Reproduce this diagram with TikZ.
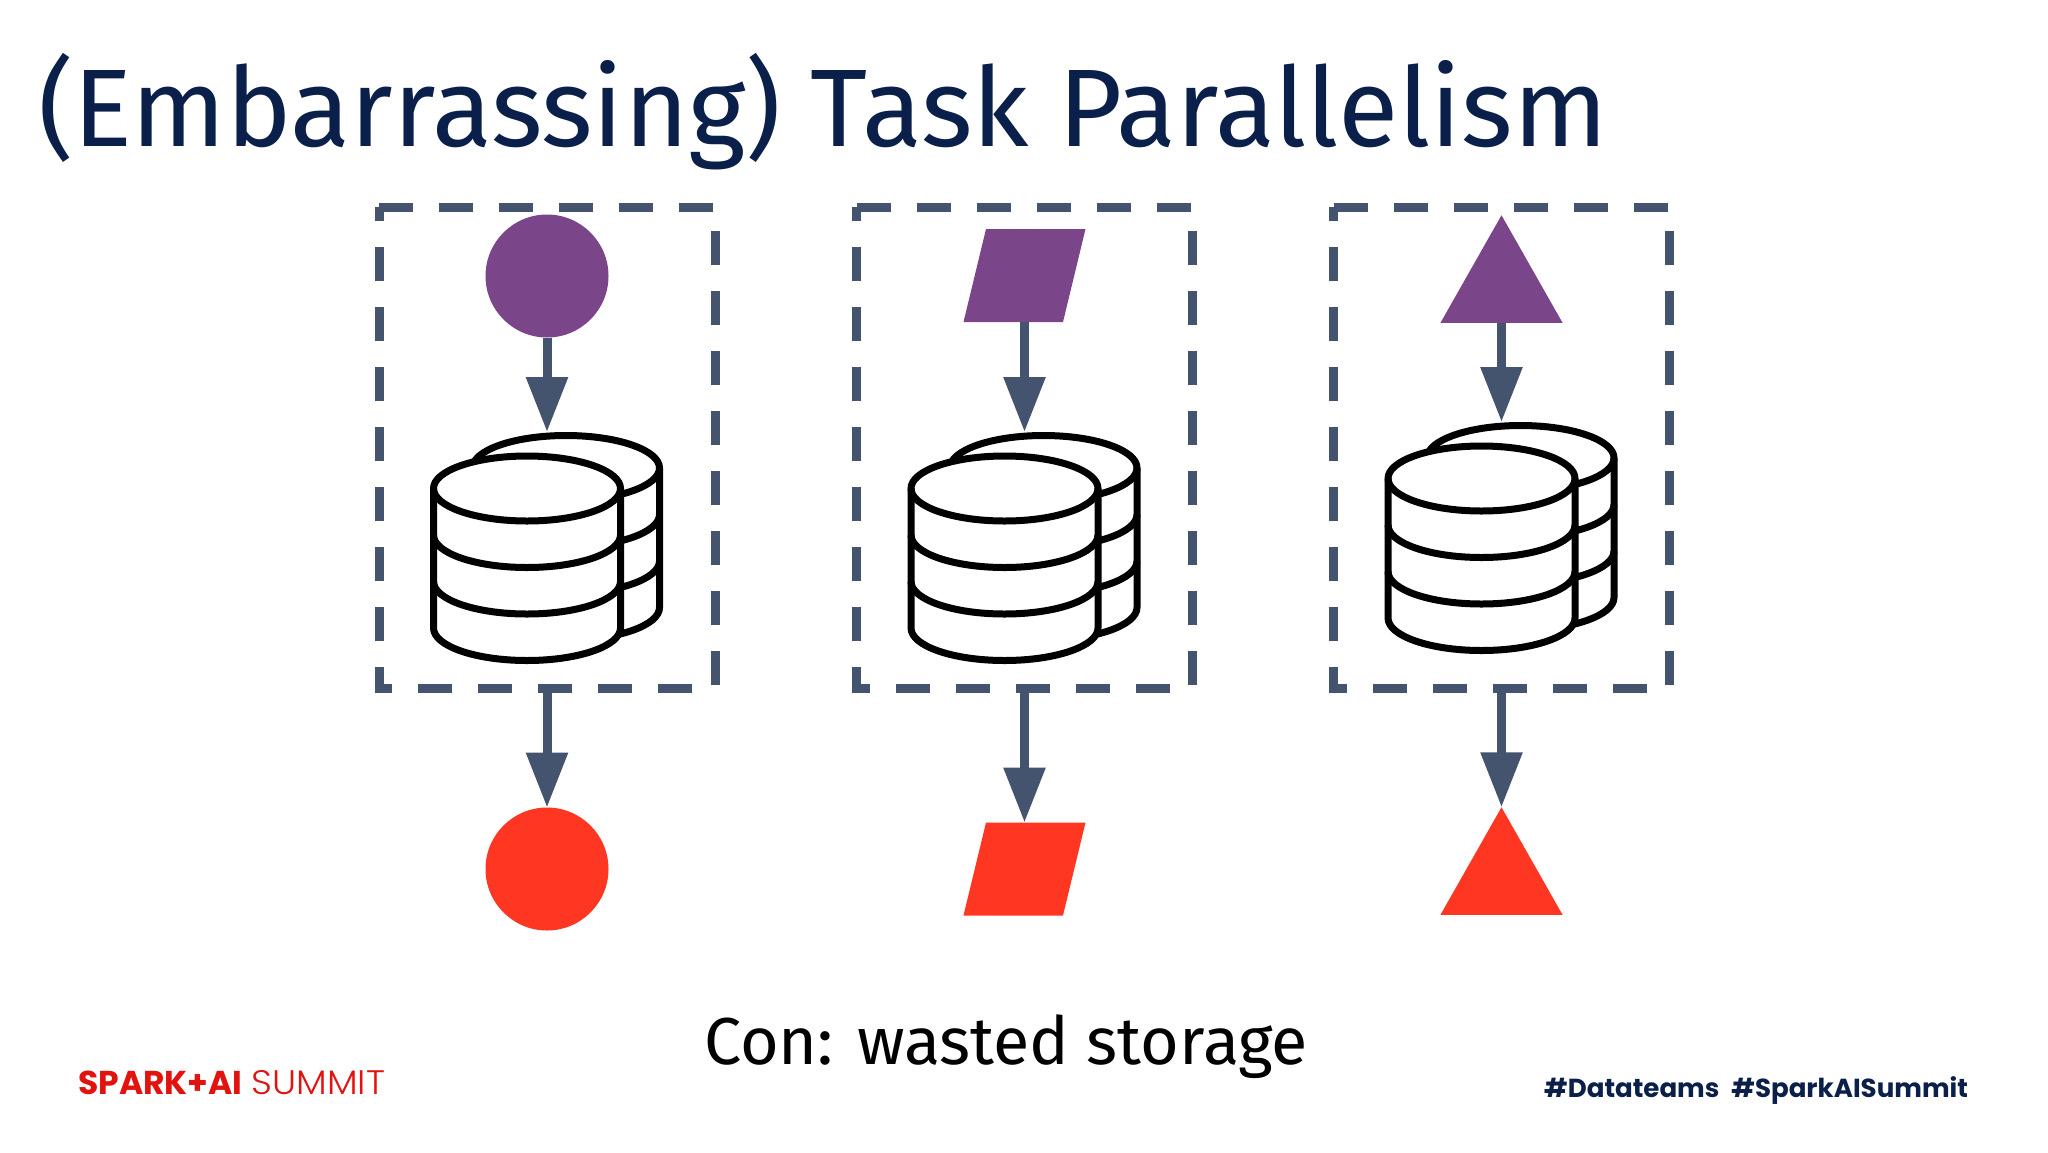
\documentclass[tikz,border=0pt]{standalone}
\usepackage{fontspec}
\usetikzlibrary{arrows.meta}
\setmainfont{Fira Sans}
\newfontfamily\popb{Poppins}
\newfontfamily\popl[FakeStretch=1.07]{Poppins Light}
\definecolor{navy}{HTML}{0B1F4B}
\definecolor{slateblue}{HTML}{44546F}
\definecolor{plum}{HTML}{7A4589}
\definecolor{flame}{HTML}{FF3621}
\definecolor{logored}{HTML}{E2120F}
\tikzset{
  flow/.style={draw=slateblue,line width=9pt,-{Triangle[length=55pt,width=40pt]}},
  dashbox/.style={draw=slateblue,line width=9pt,dash pattern=on 34pt off 26pt,line join=miter},
  anchorbox/.style={inner sep=0pt,outer sep=0pt,minimum width=#1},
  can/.style={draw=black,line width=7pt,fill=white,line join=round},
  band/.style={draw=black,line width=7pt},
  solidcircle/.style={circle,inner sep=0pt,outer sep=0pt,minimum size=123pt},
}
% one cylinder of the stack, axis at #1, top-ellipse centre at #2
\newcommand{\onecan}[2]{%
  \draw[can] (#1-93.5,#2) -- (#1-93.5,#2+139.5)
    arc[start angle=180,end angle=0,x radius=93.5,y radius=32.5]
    -- (#1+93.5,#2) arc[start angle=0,end angle=-180,x radius=93.5,y radius=32.5] -- cycle;
  \foreach \dy in {0,46.5,93} {
    \draw[band] (#1-93.5,#2+\dy) arc[start angle=180,end angle=0,x radius=93.5,y radius=32.5];
  }
}
% dashed box and database stack; #1 name suffix, #2 vertical shift of the stack
\newcommand{\stackbox}[2]{%
  \node[anchorbox=336pt,minimum height=481pt] (box#1) at (547,447.5) {};
  \draw[dashbox] (box#1.north west) -- (box#1.north east) -- (box#1.south east) -- (box#1.south west) -- cycle;
  \node[anchorbox=233pt,minimum height=233pt] (db#1) at (547,548.5+#2) {};
  \onecan{566}{468+#2}
  \onecan{527}{488.5+#2}
}
\begin{document}
\begin{tikzpicture}[x=1pt,y=-1pt]
\useasboundingbox (0,0) rectangle (2048,1152);
\fill[white] (0,0) rectangle (2048,1152);

\node[anchor=base west,inner sep=0pt,text=navy,font=\fontsize{110.3}{120}\selectfont] (title) at (38,146) {(Embarrassing) Task Parallelism};

% column 1
\begin{scope}
  \stackbox{A}{0}
  \node[solidcircle,fill=plum] (inA) at (547,276) {};
  \node[solidcircle,fill=flame] (outA) at (547,869) {};
  \draw[flow] (inA.south) -- (dbA.north);
  \draw[flow] (boxA.south) -- (outA.north);
\end{scope}

% column 2
\begin{scope}[shift={(477.5,0)}]
  \stackbox{B}{0}
  \node[anchorbox=122pt,minimum height=93pt] (inB) at (547,275.5) {};
  \fill[plum] ([xshift=22.5pt]inB.north west) -- (inB.north east) -- ([xshift=-22.5pt]inB.south east) -- (inB.south west) -- cycle;
  \node[anchorbox=122pt,minimum height=93pt] (outB) at (547,869) {};
  \fill[flame] ([xshift=22.5pt]outB.north west) -- (outB.north east) -- ([xshift=-22.5pt]outB.south east) -- (outB.south west) -- cycle;
  \draw[flow] (inB.south) -- (dbB.north);
  \draw[flow] (boxB.south) -- (outB.north);
\end{scope}

% column 3
\begin{scope}[shift={(954.5,0)}]
  \stackbox{C}{-10}
  \node[anchorbox=122pt,minimum height=107.5pt] (inC) at (547,269) {};
  \fill[plum] (inC.north) -- (inC.south east) -- (inC.south west) -- cycle;
  \node[anchorbox=122pt,minimum height=107.5pt] (outC) at (547,861) {};
  \fill[flame] (outC.north) -- (outC.south east) -- (outC.south west) -- cycle;
  \draw[flow] (inC.south) -- (dbC.north);
  \draw[flow] (boxC.south) -- (outC.north);
\end{scope}

\node[anchor=base west,inner sep=0pt,text=black,font=\fontsize{66.4}{70}\selectfont] (con) at (704,1064) {Con: wasted storage};
\node[anchor=base west,inner sep=0pt,text=logored,font=\fontsize{33}{36}\selectfont] (logo) at (78,1094) {{\popb\bfseries SPARK+AI}\hspace{9pt}{\popl\fontsize{34}{36}\selectfont SUMMIT}};
\node[anchor=base west,inner sep=0pt,text=navy,font=\popb\bfseries\fontsize{26.1}{30}\selectfont] (tags) at (1544,1097) {\#Datateams\hspace{12pt}\#SparkAISummit};
\end{tikzpicture}
\end{document}
